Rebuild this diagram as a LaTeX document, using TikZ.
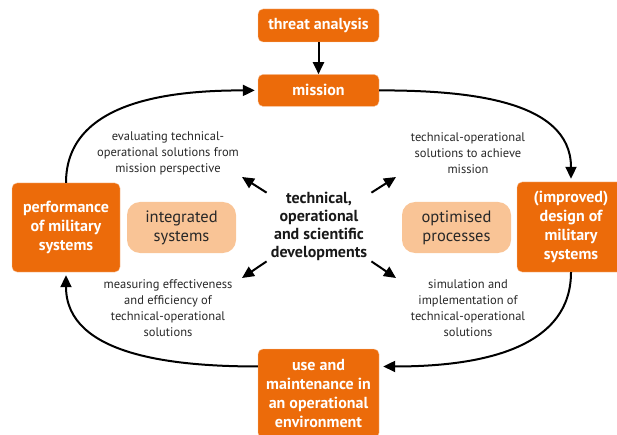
\documentclass[tikz,border=0pt]{standalone}
\usepackage{fontspec}
\setmainfont{PT Sans}
\usepackage{tikz}
\usetikzlibrary{arrows.meta}
\usetikzlibrary{positioning}
\definecolor{tnoorange}{RGB}{236,107,10}
\definecolor{tnolight}{RGB}{249,196,150}
\definecolor{notegrey}{RGB}{40,40,40}
\tikzstyle{orangebox} =
[
	draw=white!60!tnoorange,thin,fill=tnoorange,rounded corners=5pt,
	text=white,align=center,inner sep=2pt,
	font=\bfseries\fontsize{16}{19}\selectfont
]
\tikzstyle{lightbox} =
[
	fill=tnolight,rounded corners=13pt,align=center,
	minimum width=109pt, minimum height=51pt,
	text=notegrey,font=\fontsize{16.5}{19}\selectfont
]
\tikzstyle{note} =
[
	align=center,text=notegrey,font=\fontsize{12.5}{16}\selectfont
]

\begin{document}
\begin{tikzpicture}[x=1pt,y=-1pt,->,>={Triangle[length=12pt,width=11pt]},line width=2pt]

\useasboundingbox (0,0) rectangle (617,435);

\node[orangebox, minimum width=121pt, minimum height=33pt] (threat) at (318.5,25.5) {threat analysis};
\node[orangebox, minimum width=121pt, minimum height=32pt] (mission) [below=32pt of threat] {mission};
\node[orangebox, minimum width=108pt, minimum height=89pt] (perf) at (66,227.5) {performance\\of military\\systems};
\node[orangebox, minimum width=108pt, minimum height=90pt] (design) at (571,227) {(improved)\\design of\\military\\systems};
\node[orangebox, minimum width=121pt, minimum height=89pt] (use) at (318.5,393.5) {use and\\maintenance in\\an operational\\environment};

\node[lightbox] (integr) at (181.5,227.5) {integrated\\systems};
\node[lightbox] (optim) at (456.5,227.5) {optimised\\processes};

\node[align=center, font=\bfseries\fontsize{16}{18}\selectfont, text=black!90] (dev) at (319,226) {technical,\\operational\\and scientific\\developments};

\node[note] (eval) at (168,153) {evaluating technical-\\operational solutions from\\mission perspective};
\node[note] (achieve) at (468,153) {technical-operational\\solutions to achieve\\mission};
\node[note] (measure) at (168,308) {measuring effectiveness\\and efficiency of\\technical-operational\\solutions};
\node[note] (simul) at (468,308) {simulation and\\implementation of\\technical-operational\\solutions};

\coordinate (tl) at (242,177);
\coordinate (tr) at (396,177);
\coordinate (bl) at (242,278);
\coordinate (br) at (396,278);

\path
	(threat) edge (mission)
	(perf.north) edge[out=90, in=180, shorten >=3pt] (mission.west)
	(mission.east) edge[out=0, in=90, shorten >=3pt] (design.north)
	(design.south) edge[out=270, in=0, shorten >=4pt] (use.24)
	(use.156) edge[out=180, in=270, shorten >=3pt] (perf.south);

\path
	(dev) edge (tl)
	(dev) edge (tr)
	(dev) edge (bl)
	(dev) edge (br);

\end{tikzpicture}
\end{document}
